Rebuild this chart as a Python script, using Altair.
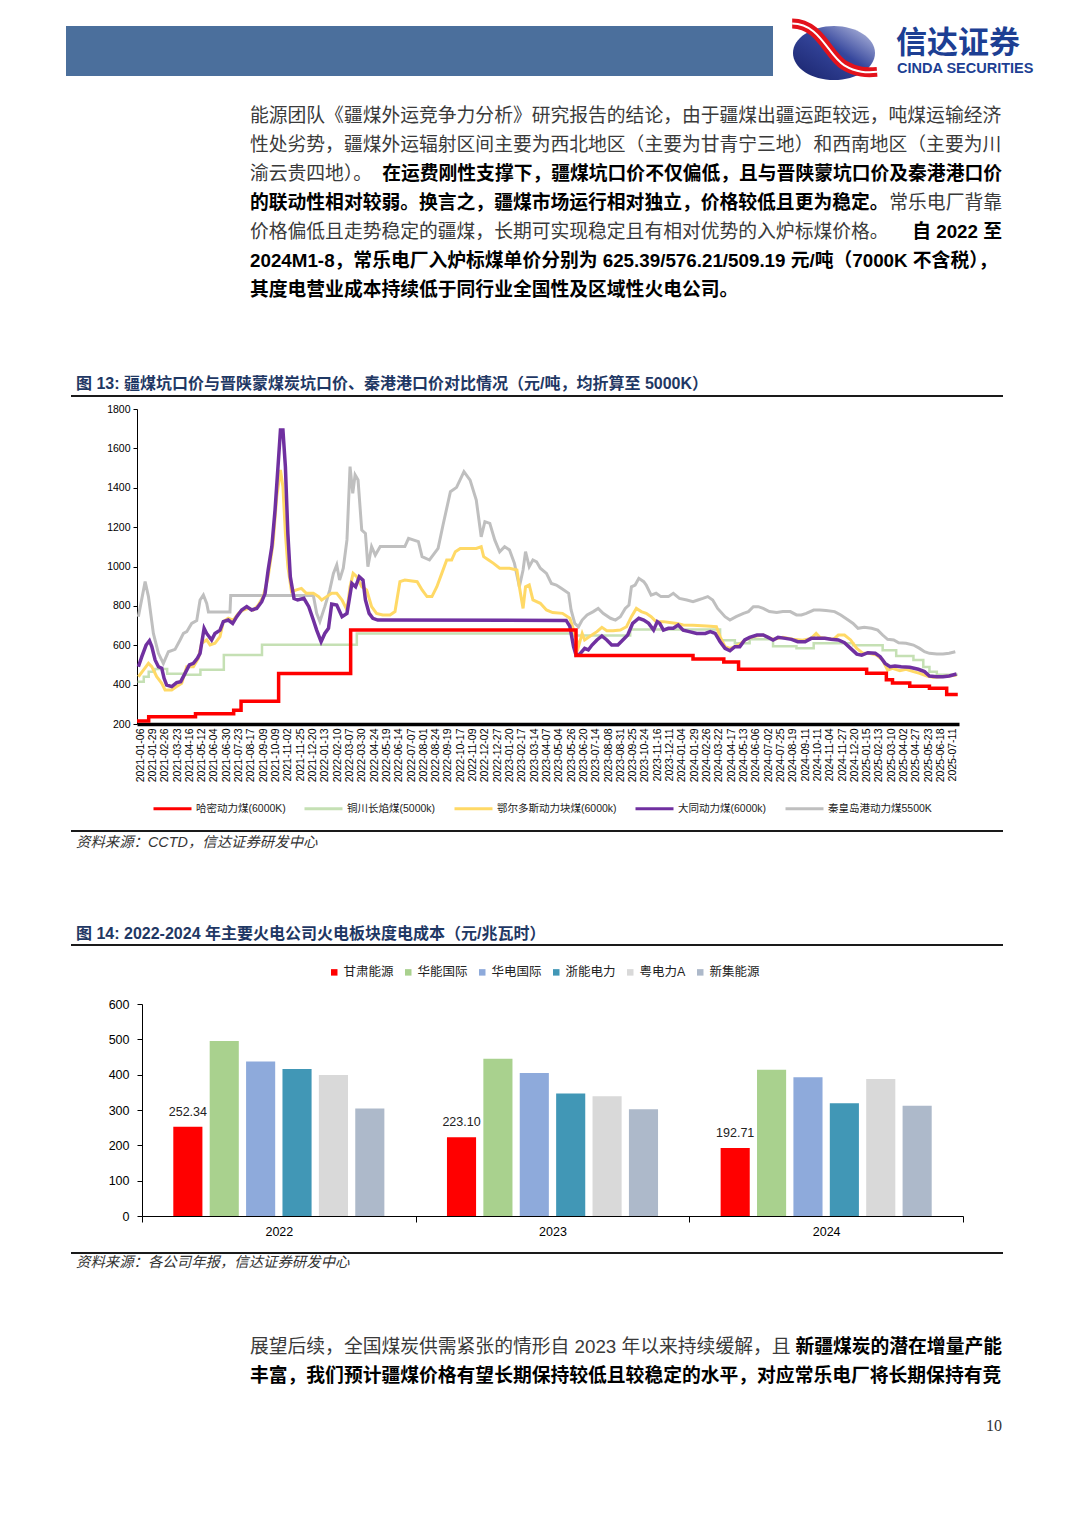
import json
import altair as alt
import pandas as pd

# ---------------- page geometry ----------------
PAGE_W, PAGE_H, M = 1080, 1527, 8
W, H = PAGE_W - 2 * M, PAGE_H - 2 * M


def X(v):
    return v - M


def Y(v):
    return v - M


FONT = "Liberation Sans, Noto Sans CJK SC"

# ---------------- chart data ----------------
date_labels = [
    "2021-01-06", "2021-01-29", "2021-02-26", "2021-03-23", "2021-04-16", "2021-05-12",
    "2021-06-04", "2021-06-30", "2021-07-23", "2021-08-17", "2021-09-09", "2021-10-09",
    "2021-11-02", "2021-11-25", "2021-12-20", "2022-01-13", "2022-02-10", "2022-03-07",
    "2022-03-30", "2022-04-24", "2022-05-19", "2022-06-14", "2022-07-07", "2022-08-01",
    "2022-08-24", "2022-09-19", "2022-10-17", "2022-11-09", "2022-12-02", "2022-12-27",
    "2023-01-20", "2023-02-17", "2023-03-14", "2023-04-07", "2023-05-04", "2023-05-26",
    "2023-06-20", "2023-07-14", "2023-08-08", "2023-08-31", "2023-09-25", "2023-10-24",
    "2023-11-16", "2023-12-11", "2024-01-04", "2024-01-29", "2024-02-26", "2024-03-22",
    "2024-04-17", "2024-05-13", "2024-06-06", "2024-07-02", "2024-07-25", "2024-08-19",
    "2024-09-11", "2024-10-11", "2024-11-04", "2024-11-27", "2024-12-20", "2025-01-15",
    "2025-02-13", "2025-03-10", "2025-04-02", "2025-04-27", "2025-05-23", "2025-06-18",
    "2025-07-11",
]

series_names = ["哈密动力煤(6000K)", "铜川长焰煤(5000k)", "鄂尔多斯动力块煤(6000k)",
                "大同动力煤(6000k)", "秦皇岛港动力煤5500K"]
series_colors = ["#ff0000", "#c5e0b4", "#ffd966", "#7030a0", "#bfbfbf"]

# (position in x-axis label steps, price)
hami = [(-0.25, 215), (0.7, 237), (4.5, 252), (7.6, 270), (8.2, 315), (11.25, 457), (17.1, 678),
        (35.4, 548), (44.9, 530), (47.4, 515), (48.6, 478), (59.0, 458), (60.6, 425), (61.1, 408),
        (62.5, 392), (64.1, 382), (65.5, 350), (66.4, 350)]

tongchuan = [(-0.2, 415), (0.3, 440), (0.7, 465), (1.2, 480), (2.2, 455), (3.7, 450), (4.9, 475),
             (6.8, 550), (9.9, 603), (17.6, 660), (35.2, 650), (39.8, 680), (47.1, 625), (48.3, 610),
             (49.5, 630), (51.4, 595), (53.3, 585), (54.7, 610), (57.9, 600), (60.3, 575),
             (61.4, 545), (62.8, 525), (63.6, 490), (64.1, 465), (64.7, 450), (66.4, 450)]

erdos = [(-0.14, 440), (0.27, 474), (0.68, 508), (0.95, 491), (1.35, 440), (1.76, 407), (2.03, 373),
         (2.57, 373), (2.97, 390), (3.38, 407), (3.79, 491), (4.33, 491), (4.74, 534), (5.0, 610),
         (5.41, 627), (5.68, 601), (6.08, 610), (6.49, 644), (6.76, 720), (7.16, 737), (7.57, 728),
         (7.98, 762), (8.38, 779), (8.79, 787), (9.2, 779), (9.6, 804), (10.0, 847), (10.4, 948),
         (10.8, 1118), (11.1, 1355), (11.4, 1490), (11.6, 1405), (11.8, 1168), (12.0, 999),
         (12.3, 872), (12.7, 881), (13.1, 889), (13.5, 864), (14.07, 864), (14.5, 847),
         (14.75, 830), (15.15, 847), (15.56, 864), (15.97, 864), (16.4, 830), (16.8, 779),
         (17.05, 897), (17.3, 965), (17.6, 948), (18.0, 897), (18.4, 881), (18.8, 796),
         (19.2, 762), (19.7, 754), (20.3, 754), (20.7, 771), (21.1, 923), (21.5, 931),
         (22.5, 923), (22.9, 881), (23.3, 847), (23.7, 847), (24.1, 897), (24.5, 965),
         (24.9, 1033), (25.3, 1033), (25.6, 1075), (26.0, 1092), (27.3, 1092), (27.7, 1101),
         (27.9, 1050), (28.3, 1033), (28.7, 1016), (29.2, 991), (30.0, 991), (30.6, 982),
         (30.8, 897), (31.1, 787), (31.3, 897), (31.6, 906), (31.9, 830), (32.5, 813),
         (33.0, 779), (33.5, 766), (34.3, 762), (34.9, 737), (35.3, 660), (35.6, 593),
         (35.9, 660), (36.1, 627), (36.5, 644), (37.1, 669), (37.5, 691), (37.9, 674),
         (38.4, 674), (39.0, 677), (39.5, 694), (39.9, 745), (40.3, 787), (40.7, 771),
         (41.1, 762), (41.5, 745), (41.9, 720), (42.5, 720), (43.0, 716), (43.6, 711),
         (44.1, 703), (44.9, 701), (46.0, 698), (46.8, 694), (47.1, 644), (47.5, 593),
         (47.9, 584), (48.3, 593), (48.8, 610), (49.2, 630), (49.8, 644), (50.6, 652),
         (51.4, 630), (52.2, 640), (53.0, 630), (53.8, 625), (54.5, 635), (54.9, 660),
         (55.2, 640), (56.3, 630), (56.7, 652), (57.2, 652), (57.7, 627), (58.2, 584),
         (58.7, 559), (59.2, 559), (59.8, 550), (60.3, 525), (60.7, 474), (61.1, 483),
         (61.7, 471), (62.2, 478), (62.8, 466), (63.3, 457), (63.9, 444), (64.4, 437),
         (65.0, 440), (65.7, 444), (66.3, 449)]

datong = [(-0.14, 491), (0.14, 542), (0.49, 601), (0.76, 623), (0.95, 593), (1.22, 525), (1.49, 491),
          (1.76, 483), (1.95, 432), (2.16, 398), (2.57, 390), (2.97, 410), (3.3, 415), (3.65, 457),
          (4.0, 500), (4.33, 508), (4.65, 534), (4.87, 559), (5.2, 686), (5.41, 660), (5.81, 627),
          (6.08, 660), (6.49, 677), (6.76, 720), (7.16, 728), (7.52, 711), (7.85, 745), (8.25, 779),
          (8.66, 796), (9.06, 779), (9.47, 787), (9.88, 821), (10.15, 864), (10.4, 982),
          (10.7, 1101), (10.96, 1287), (11.2, 1507), (11.4, 1693), (11.6, 1693), (11.8, 1507),
          (12.0, 1168), (12.2, 948), (12.5, 838), (12.8, 830), (13.3, 838), (13.7, 796),
          (14.07, 728), (14.34, 677), (14.7, 618), (15.0, 660), (15.3, 686), (15.56, 809),
          (15.97, 804), (16.4, 745), (16.8, 762), (17.2, 914), (17.5, 897), (17.8, 948),
          (18.1, 931), (18.3, 830), (18.6, 762), (18.9, 737), (19.3, 728), (34.6, 726),
          (34.9, 696), (35.2, 593), (35.4, 550), (35.7, 555), (36.1, 584), (36.4, 576),
          (36.7, 601), (37.1, 627), (37.5, 647), (37.9, 627), (38.3, 601), (38.8, 601),
          (39.2, 627), (39.6, 652), (40.0, 711), (40.5, 737), (40.9, 728), (41.3, 711),
          (41.7, 677), (42.0, 720), (42.2, 711), (42.5, 677), (42.9, 686), (43.3, 686),
          (43.7, 703), (44.1, 677), (44.6, 669), (45.2, 660), (45.9, 660), (46.3, 669),
          (46.7, 660), (47.1, 618), (47.5, 584), (47.9, 572), (48.3, 593), (48.7, 593),
          (49.1, 627), (49.5, 640), (50.1, 652), (50.6, 652), (51.0, 640), (51.4, 627),
          (51.8, 640), (52.4, 635), (52.9, 630), (53.4, 618), (54.0, 618), (54.5, 635),
          (55.0, 635), (55.6, 635), (56.1, 630), (56.7, 627), (57.2, 613), (57.7, 584),
          (58.2, 555), (58.6, 550), (59.1, 562), (59.7, 559), (60.1, 542), (60.5, 508),
          (60.9, 491), (61.3, 495), (61.8, 491), (62.5, 488), (63.2, 478), (63.7, 466),
          (64.1, 444), (64.7, 440), (65.2, 440), (65.7, 444), (66.3, 454)]

qhd = [(-0.14, 745), (0.41, 923), (0.68, 847), (1.08, 660), (1.49, 559), (1.89, 508), (2.3, 567),
       (2.84, 579), (3.25, 627), (3.52, 660), (3.79, 669), (4.19, 711), (4.6, 725), (4.87, 830),
       (5.14, 855), (5.41, 813), (5.55, 769), (7.3, 769), (7.36, 853), (14.07, 853), (14.34, 762),
       (14.6, 720), (15.0, 796), (15.4, 880), (15.7, 965), (15.97, 1008), (16.2, 931),
       (16.5, 991), (16.8, 1135), (17.05, 1507), (17.27, 1372), (17.46, 1465), (17.7, 1439),
       (18.0, 1185), (18.3, 1168), (18.5, 999), (18.8, 1101), (19.1, 1058), (19.5, 1101),
       (21.5, 1101), (21.8, 1143), (22.6, 1126), (22.9, 1050), (23.5, 1033), (24.2, 1092),
       (24.6, 1211), (25.2, 1380), (25.7, 1402), (26.3, 1482), (26.8, 1439), (27.3, 1338),
       (27.7, 1151), (28.0, 1228), (28.4, 1219), (28.8, 1135), (29.2, 1075), (29.6, 1101),
       (30.0, 1084), (30.4, 1016), (30.8, 897), (31.1, 982), (31.3, 1075), (31.6, 999),
       (31.9, 1033), (32.2, 1024), (32.5, 991), (33.0, 965), (33.4, 914), (33.8, 906),
       (34.2, 889), (34.8, 864), (35.0, 779), (35.3, 711), (35.6, 694), (35.9, 728),
       (36.3, 754), (36.8, 771), (37.2, 787), (37.6, 762), (38.2, 737), (38.6, 728),
       (39.0, 745), (39.4, 787), (39.7, 804), (39.9, 897), (40.2, 906), (40.5, 940),
       (40.9, 923), (41.1, 906), (41.5, 855), (41.9, 864), (42.3, 847), (42.9, 847),
       (43.3, 864), (43.8, 838), (44.4, 830), (44.9, 821), (45.3, 830), (45.7, 838),
       (46.1, 847), (46.5, 830), (46.9, 787), (47.5, 745), (47.9, 728), (48.4, 745),
       (49.0, 762), (49.4, 771), (49.8, 796), (50.2, 796), (50.6, 787), (51.1, 771),
       (51.7, 766), (52.2, 771), (52.8, 771), (53.3, 754), (53.7, 754), (54.1, 762),
       (54.7, 779), (55.2, 779), (55.7, 776), (56.4, 771), (56.9, 754), (57.5, 728),
       (57.9, 711), (58.3, 686), (58.8, 691), (59.4, 686), (59.9, 677), (60.3, 652),
       (60.7, 630), (61.2, 627), (61.6, 613), (62.2, 610), (62.8, 601), (63.3, 584),
       (63.7, 567), (64.1, 559), (64.7, 555), (65.2, 555), (65.7, 559), (66.2, 567)]

years = ["2022", "2023", "2024"]
companies = ["甘肃能源", "华能国际", "华电国际", "浙能电力", "粤电力A", "新集能源"]
company_colors = ["#ff0000", "#a9d18e", "#8eaadb", "#4197b6", "#d9d9d9", "#adb9ca"]
cost_2022 = [252.34, 495, 437, 416, 399, 304]
cost_2023 = [223.10, 445, 405, 347, 339, 302]
cost_2024 = [192.71, 414, 393, 319, 388, 312]

# ---------------- page text ----------------
para1 = [
    [("能源团队《疆煤外运竞争力分析》研究报告的结论，由于疆煤出疆运距较远，吨煤运输经济", "r")],
    [("性处劣势，疆煤外运辐射区间主要为西北地区（主要为甘青宁三地）和西南地区（主要为川", "r")],
    [("渝云贵四地）。", "r"), ("在运费刚性支撑下，疆煤坑口价不仅偏低，且与晋陕蒙坑口价及秦港港口价", "b")],
    [("的联动性相对较弱。换言之，疆煤市场运行相对独立，价格较低且更为稳定。", "b"), ("常乐电厂背靠", "r")],
    [("价格偏低且走势稳定的疆煤，长期可实现稳定且有相对优势的入炉标煤价格。", "r"), ("自 2022 至", "b")],
    [("2024M1-8，常乐电厂入炉标煤单价分别为 625.39/576.21/509.19 元/吨（7000K 不含税），", "b")],
    [("其度电营业成本持续低于同行业全国性及区域性火电公司。", "b")],
]
para2 = [
    [("展望后续，全国煤炭供需紧张的情形自 2023 年以来持续缓解，且", "r"), ("新疆煤炭的潜在增量产能", "b")],
    [("丰富，我们预计疆煤价格有望长期保持较低且较稳定的水平，对应常乐电厂将长期保持有竞", "b")],
]
fig13_title = "图 13:  疆煤坑口价与晋陕蒙煤炭坑口价、秦港港口价对比情况（元/吨，均折算至 5000K）"
fig14_title = "图 14:  2022-2024 年主要火电公司火电板块度电成本（元/兆瓦时）"
src13 = "资料来源：CCTD，信达证券研发中心"
src14 = "资料来源：各公司年报，信达证券研发中心"
page_no = "10"

# ---------------- layout of text blocks ----------------
body_rows = {"r_left": [], "b_left": [], "r_right": [], "b_right": []}


def add_para(lines, y0, pitch):
    for i, segs in enumerate(lines):
        yy = Y(y0 + i * pitch)
        for j, (txt, w) in enumerate(segs):
            side = "left" if j == 0 else "right"
            xx = X(250) if side == "left" else X(1002)
            body_rows[f"{w}_{side}"].append({"x": xx, "y": yy, "text": txt})


add_para(para1, 116, 29)
add_para(para2, 1347, 29)


def text_layer(rows, **kw):
    df = pd.DataFrame(rows)
    return alt.Chart(df).mark_text(**kw).encode(
        x=alt.X("x:Q", scale=None, axis=None),
        y=alt.Y("y:Q", scale=None, axis=None),
        text="text:N",
    )


layers = []
one = alt.Data(values=[{}])

# header bar
layers.append(alt.Chart(one).mark_rect(color="#4b6f9c").encode(
    x=alt.value(X(66)), x2=alt.value(X(773)), y=alt.value(Y(26)), y2=alt.value(Y(76))))

# logo
ELLIPSE = "M -1 0 A 1 0.66 0 1 1 1 0 A 1 0.66 0 1 1 -1 0 Z"
SWOOSH = "M -1.02 -0.72 C -0.35 -0.72 -0.15 0.05 0.25 0.3 C 0.55 0.48 0.8 0.48 1.05 0.46"
logo_fill = {"gradient": "linear", "x1": 1, "y1": 0, "x2": 0, "y2": 1,
             "stops": [{"offset": 0, "color": "#c3c8e6"}, {"offset": 0.45, "color": "#35469c"},
                       {"offset": 1, "color": "#18226a"}]}
layers.append(alt.Chart(one).mark_point(shape=ELLIPSE, size=82 * 82, filled=True, fill=logo_fill,
                                        strokeWidth=0, opacity=1).encode(
    x=alt.value(X(834)), y=alt.value(Y(53))))
layers.append(alt.Chart(one).mark_point(shape=SWOOSH, size=82 * 82, filled=False, stroke="#e3121b",
                                        strokeWidth=10, opacity=1).encode(
    x=alt.value(X(834)), y=alt.value(Y(53))))
layers.append(alt.Chart(one).mark_point(shape=SWOOSH, size=82 * 82, filled=False, stroke="#ffffff",
                                        strokeWidth=2, opacity=1).encode(
    x=alt.value(X(834)), y=alt.value(Y(53))))
layers.append(text_layer([{"x": X(896), "y": Y(44), "text": "信达证券"}], font="Noto Sans CJK SC",
                         fontSize=31, fontWeight="bold", color="#1d3f93", align="left",
                         baseline="middle"))
layers.append(text_layer([{"x": X(897), "y": Y(69), "text": "CINDA SECURITIES"}],
                         font="Liberation Sans", fontSize=14.5, fontWeight="bold", color="#1d3f93",
                         align="left", baseline="middle"))

# body paragraphs
for key, rows in body_rows.items():
    if not rows:
        continue
    w, side = key.split("_")
    layers.append(text_layer(rows, font=FONT, fontSize=18.8,
                             fontWeight="bold" if w == "b" else "normal",
                             color="#000000" if w == "b" else "#3a3a3a",
                             align=side, baseline="middle"))

# figure titles, sources, page number
layers.append(text_layer([{"x": X(76), "y": Y(384), "text": fig13_title},
                          {"x": X(76), "y": Y(934), "text": fig14_title}],
                         font=FONT, fontSize=16, fontWeight="bold", color="#1f3864",
                         align="left", baseline="middle"))
layers.append(text_layer([{"x": X(76), "y": Y(843), "text": src13},
                          {"x": X(76), "y": Y(1263), "text": src14}],
                         font=FONT, fontSize=14.4, fontStyle="italic", color="#333333",
                         align="left", baseline="middle"))
layers.append(text_layer([{"x": X(1002), "y": Y(1426), "text": page_no}],
                         font="Liberation Serif", fontSize=16, color="#333333",
                         align="right", baseline="middle"))

# separator rules
sep = pd.DataFrame([{"x": X(71), "x2": X(1003), "y": Y(v)} for v in (396, 831, 945, 1253)])
layers.append(alt.Chart(sep).mark_rule(color="#1a1a1a", strokeWidth=2).encode(
    x=alt.X("x:Q", scale=None, axis=None), x2="x2:Q", y=alt.Y("y:Q", scale=None, axis=None)))

# ---------------- figure 13: line chart ----------------
line_rows = []
for name, pts in zip(series_names, [hami, tongchuan, erdos, datong, qhd]):
    for t, v in pts:
        line_rows.append({"series": name, "t": t, "price": v})
line_df = pd.DataFrame(line_rows)

label_expr = json.dumps(date_labels) + "[datum.value]"
lx = alt.X("t:Q", title=None,
           scale=alt.Scale(domain=[-0.25, 66.5], range=[X(137), X(959)], nice=False, zero=False),
           axis=alt.Axis(orient="bottom", offset=-(H - Y(724)), values=list(range(67)),
                         labelExpr=label_expr, labelAngle=270, labelFontSize=10.5,
                         labelFont="Liberation Sans", labelColor="#000", labelPadding=4,
                         labelOverlap=False, labelFlush=False, ticks=False, grid=False,
                         domainColor="#000", domainWidth=3.5))
ly = alt.Y("price:Q", title=None,
           scale=alt.Scale(domain=[200, 1800], range=[Y(724), Y(409)], nice=False, zero=False),
           axis=alt.Axis(orient="left", offset=-X(137), values=list(range(200, 1801, 200)),
                         format="d", labelFontSize=10.5, labelFont="Liberation Sans",
                         labelColor="#000", tickSize=4, tickColor="#000", labelPadding=3,
                         grid=False, domainColor="#000", domainWidth=1))
lcolor = alt.Color("series:N", scale=alt.Scale(domain=series_names, range=series_colors),
                   legend=alt.Legend(orient="none", legendX=X(152), legendY=Y(807) - 19,
                                     direction="horizontal", title=None, symbolType="stroke",
                                     symbolSize=1444, symbolStrokeWidth=3, labelFontSize=10.5,
                                     labelFont=FONT, labelColor="#222", labelOffset=3,
                                     columnPadding=12, labelLimit=400, padding=0))
lbase = alt.Chart(line_df).encode(x=lx, y=ly, color=lcolor)
line_layers = []
for name, interp, sw in [(series_names[4], "linear", 3), (series_names[1], "step-after", 2.5),
                         (series_names[2], "linear", 3), (series_names[3], "linear", 3.5),
                         (series_names[0], "step-after", 3.5)]:
    line_layers.append(lbase.transform_filter(alt.datum.series == name).mark_line(
        interpolate=interp, strokeWidth=sw))
line_chart = alt.layer(*line_layers)

# ---------------- figure 14: grouped bar chart ----------------
bar_rows = []
for yr, vals in zip(years, [cost_2022, cost_2023, cost_2024]):
    for c, v in zip(companies, vals):
        bar_rows.append({"year": yr, "company": c, "cost": v})
bar_df = pd.DataFrame(bar_rows)

bx = alt.X("year:N", title=None,
           scale=alt.Scale(domain=years, range=[X(142), X(963)], paddingInner=0, paddingOuter=0),
           axis=alt.Axis(orient="bottom", offset=-(H - Y(1216)), tickBand="extent", labelAngle=0,
                         tickSize=6, tickColor="#000", domainColor="#000", labelFontSize=12.5,
                         labelFont="Liberation Sans", labelColor="#000", labelPadding=3,
                         grid=False))
bxo = alt.XOffset("company:N", scale=alt.Scale(domain=companies, paddingInner=0.2,
                                               paddingOuter=0.86))
by = alt.Y("cost:Q", title=None,
           scale=alt.Scale(domain=[0, 600], range=[Y(1216), Y(1004)], nice=False),
           axis=alt.Axis(orient="left", offset=-X(142), values=list(range(0, 601, 100)),
                         format="d", labelFontSize=12.5, labelFont="Liberation Sans",
                         labelColor="#000", tickSize=5, tickColor="#000", labelPadding=8,
                         grid=False, domainColor="#000"))
bcolor = alt.Color("company:N", scale=alt.Scale(domain=companies, range=company_colors),
                   legend=alt.Legend(orient="none", legendX=X(328), legendY=Y(972) - 6,
                                     direction="horizontal", title=None, symbolType="square",
                                     symbolSize=42, symbolStrokeWidth=0, labelFontSize=12.5,
                                     labelFont=FONT, labelColor="#222", labelOffset=3,
                                     columnPadding=8, labelLimit=300, padding=0))
bars = alt.Chart(bar_df).mark_bar().encode(x=bx, xOffset=bxo, y=by, color=bcolor)
bar_labels = alt.Chart(bar_df).transform_filter(alt.datum.company == companies[0]).mark_text(
    dy=-8, baseline="bottom", fontSize=12.5, font="Liberation Sans", color="#222").encode(
    x=bx, xOffset=bxo, y=by, text=alt.Text("cost:Q", format=".2f"))
bar_chart = alt.layer(bars, bar_labels)

layers.append(line_chart)
layers.append(bar_chart)

chart = alt.layer(*layers).resolve_scale(
    x="independent", y="independent", color="independent"
).properties(
    width=W, height=H, padding=0, background="white",
    autosize=alt.AutoSizeParams(type="none"),
).configure_view(stroke=None)

chart.save("out.html", embed_options={"renderer": "svg", "actions": False})
